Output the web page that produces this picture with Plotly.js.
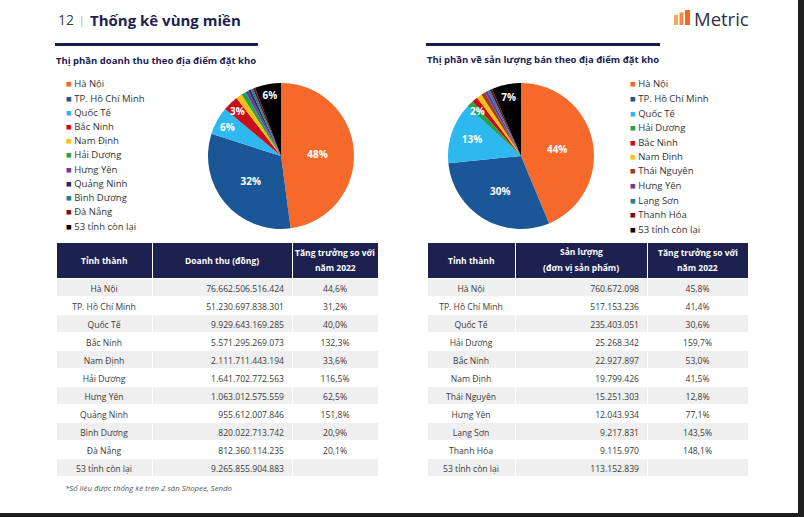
<!DOCTYPE html>
<html>
<head>
<meta charset="utf-8">
<script src="https://cdn.plot.ly/plotly-3.0.1.min.js"></script>
<style>html,body{margin:0;padding:0;background:#fff;}#chart{width:804px;height:517px;}</style>
</head>
<body>
<div id="chart"></div>
<script>
// ---------- DATA ----------
const provincesRevenue = ["Hà Nội","TP. Hồ Chí Minh","Quốc Tế","Bắc Ninh","Nam Định","Hải Dương","Hưng Yên","Quảng Ninh","Bình Dương","Đà Nẵng","53 tỉnh còn lại"];
const revenueValues = [76662506516424,51230697838301,9929643169285,5571295269073,2111711443194,1641702772563,1063012575559,955612007846,820022713742,812360114235,9265855904883];
const revenueGrowth = [44.6,31.2,40.0,132.3,33.6,116.5,62.5,151.8,20.9,20.1,null];
const revenuePieLabels = ["48%","32%","6%","3%","","","","","","","6%"];

const provincesVolume = ["Hà Nội","TP. Hồ Chí Minh","Quốc Tế","Hải Dương","Bắc Ninh","Nam Định","Thái Nguyên","Hưng Yên","Lạng Sơn","Thanh Hóa","53 tỉnh còn lại"];
const volumeValues = [760672098,517153236,235403051,25268342,22927897,19799426,15251303,12043934,9217831,9115970,113152839];
const volumeGrowth = [45.8,41.4,30.6,159.7,53.0,41.5,12.8,77.1,143.5,148.1,null];
const volumePieLabels = ["44%","30%","13%","2%","","","","","","","7%"];

const headerRevenue = ["Tỉnh thành","Doanh thu (đồng)","Tăng trưởng so với<br>năm 2022"];
const headerVolume = ["Tỉnh thành","Sản lượng<br>(đơn vị sản phẩm)","Tăng trưởng so với<br>năm 2022"];

// ---------- STYLE ----------
const colorMap = {
  "Hà Nội":"#f7692b","TP. Hồ Chí Minh":"#1b5797","Quốc Tế":"#2db8ef","Bắc Ninh":"#c8101c",
  "Nam Định":"#fcc012","Hải Dương":"#1ea54d","Hưng Yên":"#6f3aa0","Quảng Ninh":"#1d3557",
  "Bình Dương":"#1f7f9e","Đà Nẵng":"#7a0f12","53 tỉnh còn lại":"#000000",
  "Thái Nguyên":"#9c4216","Lạng Sơn":"#1f7f9e","Thanh Hóa":"#7a0f12"
};
const W = 804, H = 517;
const X = p => p / W;
const Y = p => 1 - p / H;
const FONT = "Open Sans, Noto Sans, sans-serif";
const NAVY = "#1d2150";

function fmtInt(n){ return n.toString().replace(/\B(?=(\d{3})+(?!\d))/g, "."); }
function fmtPct(v){ return v == null ? "" : v.toFixed(1).replace(".", ",") + "%"; }

const annotations = [];
function txt(text, x, y, size, color, extra){
  annotations.push(Object.assign({text:text, x:X(x), y:Y(y), xref:"paper", yref:"paper",
    xanchor:"left", yanchor:"middle", showarrow:false,
    font:{family:FONT, size:size, color:color}}, extra||{}));
}

// pie: large slices labelled by plotly; thin slices get their label near the rim
function pieTrace(labels, values, texts, x0, x1, y0, y1){
  const total = values.reduce((a,b)=>a+b,0);
  const cx = (x0+x1)/2, cy = (y0+y1)/2, r = Math.min(x1-x0, y1-y0)/2;
  let cum = 0;
  const inside = texts.map((t,i)=>{
    const share = values[i]/total;
    const mid = cum + share/2; cum += share;
    if (t && share < 0.05) {
      const a = 2*Math.PI*mid;
      txt("<b>"+t+"</b>", cx + 0.86*r*Math.sin(a), cy - 0.86*r*Math.cos(a), 10, "#ffffff", {xanchor:"center"});
      return "";
    }
    return t;
  });
  return {
    type:"pie", labels:labels, values:values, text:inside, textinfo:"text",
    sort:false, direction:"clockwise", rotation:0, hole:0,
    marker:{colors:labels.map(l=>colorMap[l]), line:{width:0}},
    textposition:"inside", insidetextorientation:"horizontal",
    insidetextfont:{family:FONT, size:10, color:"#ffffff", weight:"bold"},
    domain:{x:[X(x0),X(x1)], y:[Y(y1),Y(y0)]},
    showlegend:false, hoverinfo:"skip"
  };
}

function tableTrace(names, vals, growth, x0, x1, y0, y1, widths){
  const rowFill = names.map((_,i)=> i%2===0 ? "#efefef" : "#ffffff");
  return {
    type:"table",
    domain:{x:[X(x0),X(x1)], y:[Y(y1),Y(y0)]},
    columnwidth:widths,
    header:{values:["","",""], align:"center", height:36,
      fill:{color:NAVY}, line:{color:"#ffffff", width:1},
      font:{family:FONT, size:8.5, color:"#ffffff"}},
    cells:{values:[names, vals.map(fmtInt), growth.map(fmtPct)],
      align:["center","right","center"], height:18,
      fill:{color:[rowFill,rowFill,rowFill]}, line:{color:"#ffffff", width:1},
      font:{family:FONT, size:8.6, color:"#3a3a3a"}}
  };
}

const data = [
  pieTrace(provincesRevenue, revenueValues, revenuePieLabels, 208, 354, 83, 229),
  pieTrace(provincesVolume, volumeValues, volumePieLabels, 448, 594, 83, 229),
  tableTrace(provincesRevenue, revenueValues, revenueGrowth, 56, 378, 242, 480, [96,140,86]),
  tableTrace(provincesVolume, volumeValues, volumeGrowth, 427, 748, 242, 480, [88,132,101])
];

txt("12", 56, 20, 14, "#444444");
txt("|", 77, 20, 10, "#9a9a9a");
txt("<b>Thống kê vùng miền</b>", 88, 20, 15, NAVY);
txt("Metric", 692, 18, 18.5, "#2c3048");
txt("<b>Thị phần doanh thu theo địa điểm đặt kho</b>", 54, 60, 9.5, NAVY);
txt("<b>Thị phần về sản lượng bán theo địa điểm đặt kho</b>", 425, 59, 9.5, NAVY);
txt("<i>*Số liệu được thống kê trên 2 sàn Shopee, Sendo</i>", 63, 488, 7.8, "#555555");

// table header texts, centred in each header cell
function headerText(labels, edges){
  labels.forEach((lab,i)=>{
    const cx = (edges[i] + edges[i+1]) / 2;
    const lines = lab.split("<br>");
    const ys = lines.length === 2 ? [252.5, 267.5] : [260];
    lines.forEach((ln,j)=> txt("<b>"+ln+"</b>", cx, ys[j], 8.5, "#ffffff", {xanchor:"center"}));
  });
}
headerText(headerRevenue, [56,152,292,378]);
headerText(headerVolume, [427,515,647,748]);

function legend(names, x, y0, step){
  names.forEach((nm,i)=>{
    txt('<span style="color:'+colorMap[nm]+'">■</span> ' + nm, x, y0 + i*step, 9.5, "#333333");
  });
}
legend(provincesRevenue, 64, 84, 14.2);
legend(provincesVolume, 628, 84, 14.5);

const shapes = [
  {type:"rect", xref:"paper", yref:"paper", x0:X(55), x1:X(258), y0:Y(46), y1:Y(43), fillcolor:"#1c1c48", line:{width:0}},
  {type:"rect", xref:"paper", yref:"paper", x0:X(426), x1:X(660), y0:Y(46), y1:Y(43), fillcolor:"#1c1c48", line:{width:0}},
  // logo bars
  {type:"rect", xref:"paper", yref:"paper", x0:X(674), x1:X(678), y0:Y(25), y1:Y(15), fillcolor:"#f8a65a", line:{width:0}},
  {type:"rect", xref:"paper", yref:"paper", x0:X(679.5), x1:X(683.5), y0:Y(25), y1:Y(12.5), fillcolor:"#f68a3a", line:{width:0}},
  {type:"rect", xref:"paper", yref:"paper", x0:X(685), x1:X(690), y0:Y(25), y1:Y(10), fillcolor:"#f26a22", line:{width:0}},
  // frame edges
  {type:"rect", xref:"paper", yref:"paper", x0:X(798), x1:1, y0:0, y1:1, fillcolor:"#1e1e1e", line:{width:0}},
  {type:"rect", xref:"paper", yref:"paper", x0:0, x1:1, y0:0, y1:Y(513), fillcolor:"#1e1e1e", line:{width:0}}
];

const layout = {
  width:W, height:H, margin:{l:0,r:0,t:0,b:0},
  paper_bgcolor:"#ffffff", plot_bgcolor:"#ffffff",
  showlegend:false, annotations:annotations, shapes:shapes,
  font:{family:FONT}
};
Plotly.newPlot("chart", data, layout, {staticPlot:true, displayModeBar:false});
</script>
</body>
</html>
